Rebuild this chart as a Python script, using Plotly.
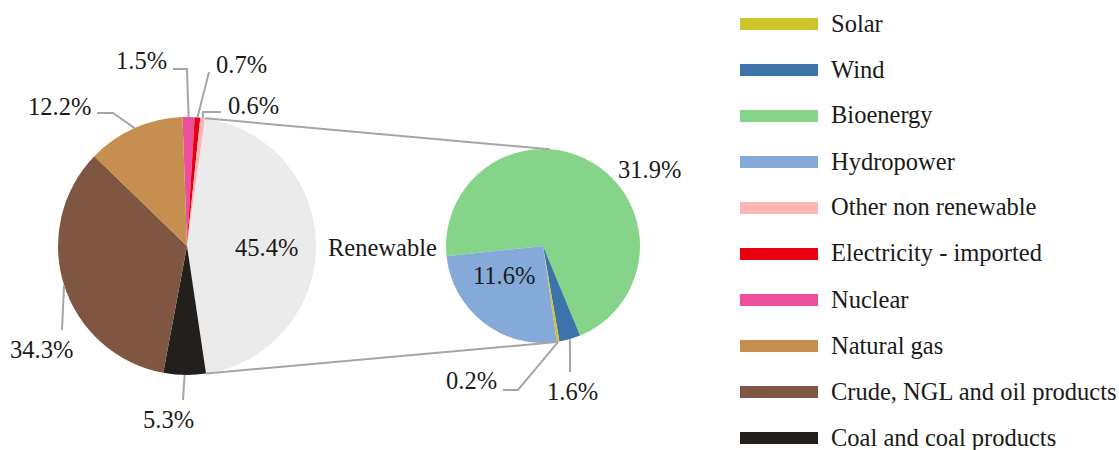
import math
import plotly.graph_objects as go

W, H = 1119, 450

# Primary energy supply mix (%), clockwise from 12 o'clock
mix_labels = ["Nuclear", "Electricity - imported", "Other non renewable", "Renewable",
              "Coal and coal products", "Crude, NGL and oil products", "Natural gas"]
mix_values = [1.5, 0.7, 0.6, 45.4, 5.3, 34.3, 12.2]

# Breakdown of the renewable share (%), clockwise
ren_labels = ["Bioenergy", "Wind", "Solar", "Hydropower"]
ren_values = [31.9, 1.6, 0.2, 11.6]

legend_order = ["Solar", "Wind", "Bioenergy", "Hydropower", "Other non renewable",
                "Electricity - imported", "Nuclear", "Natural gas",
                "Crude, NGL and oil products", "Coal and coal products"]

colors = {
    "Solar": "#cdc62b",
    "Wind": "#3c73a9",
    "Bioenergy": "#86d48a",
    "Hydropower": "#85aad9",
    "Other non renewable": "#fcb5b5",
    "Electricity - imported": "#e60010",
    "Nuclear": "#ed4f9d",
    "Natural gas": "#c78f4f",
    "Crude, NGL and oil products": "#7f5641",
    "Coal and coal products": "#231f1d",
    "Renewable": "#ebebeb",
}

FONT = "Liberation Serif"
FSIZE = 24.5
TXT = "#1a1a1a"
LINE = "#a6a6a6"

# pie geometry in pixels: centre x, centre y, radius, rotation (deg)
L_CX, L_CY, L_R, L_ROT = 187, 246, 129, -2
R_CX, R_CY, R_R, R_ROT = 543, 246, 97, -96


def px(x):
    return x / W


def py(y):
    return 1 - y / H


def domain(cx, cy, r):
    return dict(x=[px(cx - r), px(cx + r)], y=[py(cy + r), py(cy - r)])


def slice_angles(values, rot):
    total = sum(values)
    out, acc = [], 0.0
    for v in values:
        a0 = rot + acc / total * 360
        acc += v
        a1 = rot + acc / total * 360
        out.append((a0, a1))
    return out


def edge(cx, cy, r, ang):
    t = math.radians(ang)
    return cx + r * math.sin(t), cy - r * math.cos(t)


def path(points):
    return "M " + " L ".join(f"{px(x):.5f},{py(y):.5f}" for x, y in points)


fig = go.Figure()
fig.add_trace(go.Pie(
    labels=mix_labels, values=mix_values, sort=False, direction="clockwise",
    rotation=L_ROT, textinfo="none", showlegend=False,
    marker=dict(colors=[colors[k] for k in mix_labels], line=dict(width=0)),
    domain=domain(L_CX, L_CY, L_R),
))
fig.add_trace(go.Pie(
    labels=ren_labels, values=ren_values, sort=False, direction="clockwise",
    rotation=R_ROT, textinfo="none", showlegend=False,
    marker=dict(colors=[colors[k] for k in ren_labels], line=dict(width=0)),
    domain=domain(R_CX, R_CY, R_R),
))

shapes, annotations = [], []


def label(text, x, y, xanchor="center"):
    annotations.append(dict(
        text=text, x=px(x), y=py(y), xref="paper", yref="paper",
        xanchor=xanchor, yanchor="middle", showarrow=False,
        font=dict(family=FONT, size=FSIZE, color=TXT),
    ))


# callouts: leader route after the slice edge point, label position, anchor
left_callouts = {
    "Nuclear": ([(187, 69), (173, 69)], (169, 61), "right"),
    "Electricity - imported": ([(209, 72)], (214, 64), "left"),
    "Other non renewable": ([(203, 112), (221, 112)], (226, 105), "left"),
    "Natural gas": ([(113, 113), (97, 113)], (93, 107), "right"),
    "Crude, NGL and oil products": ([(62, 330)], (41, 349), "center"),
    "Coal and coal products": ([(183, 400)], (168, 419), "center"),
}
right_callouts = {
    "Solar": ([(518, 390), (503, 390)], (499, 380), "right"),
    "Wind": ([(570, 372)], (572, 391), "center"),
}

mix_ang = dict(zip(mix_labels, slice_angles(mix_values, L_ROT)))
ren_ang = dict(zip(ren_labels, slice_angles(ren_values, R_ROT)))
mix_val = dict(zip(mix_labels, mix_values))
ren_val = dict(zip(ren_labels, ren_values))

for name, (route, (tx, ty), anc) in left_callouts.items():
    a0, a1 = mix_ang[name]
    start = edge(L_CX, L_CY, L_R, (a0 + a1) / 2)
    shapes.append(dict(type="path", path=path([start] + route), xref="paper", yref="paper",
                       line=dict(color=LINE, width=2)))
    label(f"{mix_val[name]}%", tx, ty, anc)

for name, (route, (tx, ty), anc) in right_callouts.items():
    a0, a1 = ren_ang[name]
    start = edge(R_CX, R_CY, R_R, (a0 + a1) / 2)
    shapes.append(dict(type="path", path=path([start] + route), xref="paper", yref="paper",
                       line=dict(color=LINE, width=2)))
    label(f"{ren_val[name]}%", tx, ty, anc)

label(f"{mix_val['Renewable']}%", 266, 247)
label("Renewable", 382, 247)
label(f"{ren_val['Bioenergy']}%", 649, 169)
label(f"{ren_val['Hydropower']}%", 504, 275)

# connector lines between the renewable slice and the breakdown pie
r0, r1 = mix_ang["Renewable"]
top_l = edge(L_CX, L_CY, L_R, r0)
bot_l = edge(L_CX, L_CY, L_R, r1)
top_r = edge(R_CX, R_CY, R_R, 4)
bot_r = edge(R_CX, R_CY, R_R, ren_ang["Hydropower"][0])
for a, b in [(top_l, top_r), (bot_l, bot_r)]:
    shapes.append(dict(type="line", xref="paper", yref="paper",
                       x0=px(a[0]), y0=py(a[1]), x1=px(b[0]), y1=py(b[1]),
                       line=dict(color=LINE, width=2)))

# legend drawn as wide colour bars with text
for i, name in enumerate(legend_order):
    yc = 24 + i * 46
    shapes.append(dict(type="rect", xref="paper", yref="paper",
                       x0=px(740), x1=px(818), y0=py(yc + 6), y1=py(yc - 6),
                       fillcolor=colors[name], line=dict(width=0)))
    label(name, 829, yc - 1, "left")

fig.update_layout(
    width=W, height=H, margin=dict(l=0, r=0, t=0, b=0),
    paper_bgcolor="white", plot_bgcolor="white", showlegend=False,
    shapes=shapes, annotations=annotations,
)

fig.write_html("out.html")
